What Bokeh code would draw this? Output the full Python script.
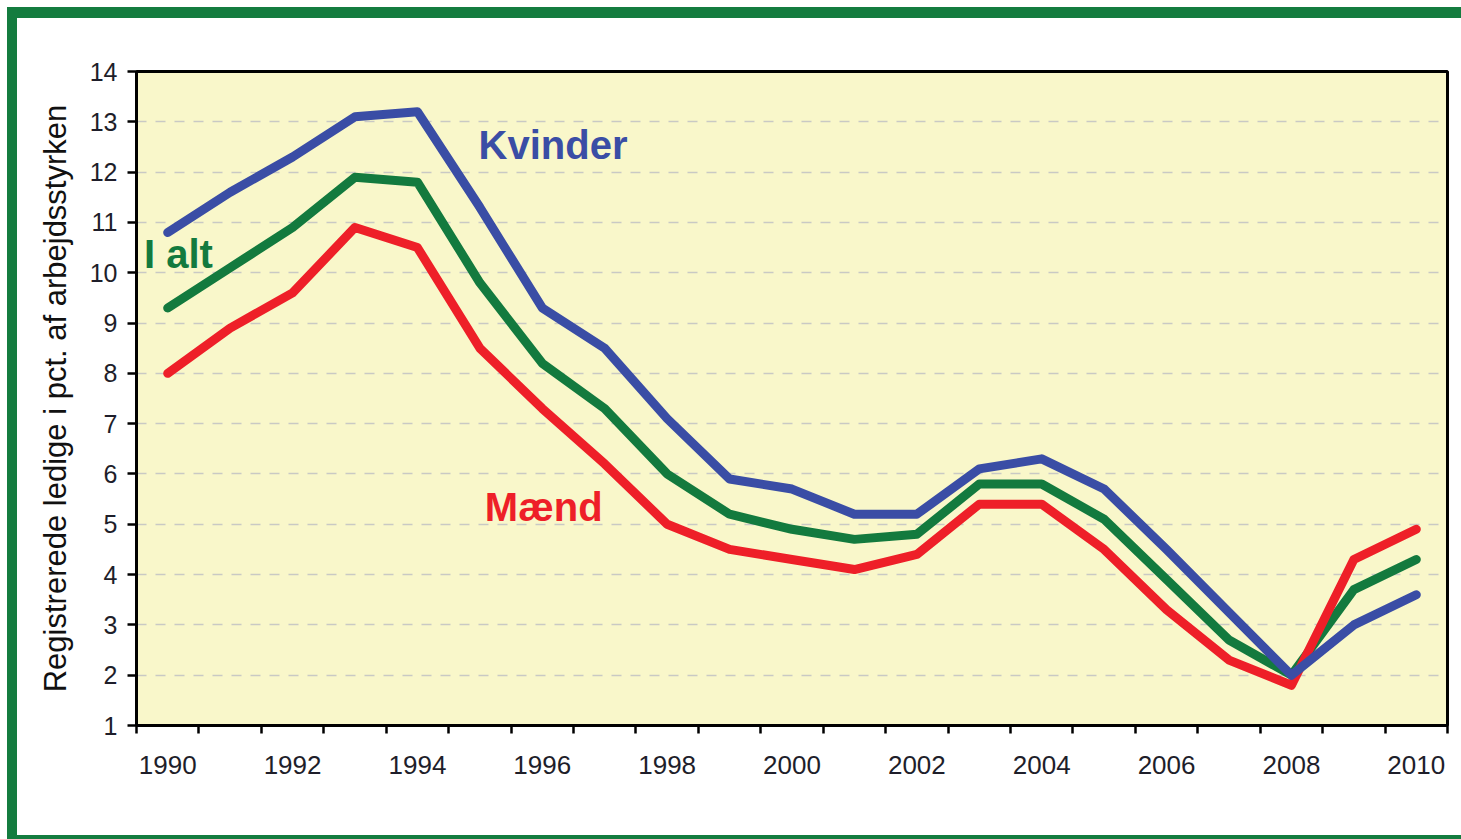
from bokeh.plotting import figure
from bokeh.models import FixedTicker, Range1d
from bokeh.core.properties import value
from bokeh.embed import file_html
from bokeh.resources import INLINE

years = list(range(1990, 2011))
kvinder = [10.8, 11.6, 12.3, 13.1, 13.2, 11.3, 9.3, 8.5, 7.1, 5.9, 5.7,
           5.2, 5.2, 6.1, 6.3, 5.7, 4.5, 3.25, 2.0, 3.0, 3.6]
i_alt = [9.3, 10.1, 10.9, 11.9, 11.8, 9.8, 8.2, 7.3, 6.0, 5.2, 4.9,
         4.7, 4.8, 5.8, 5.8, 5.1, 3.9, 2.7, 2.0, 3.7, 4.3]
maend = [8.0, 8.9, 9.6, 10.9, 10.5, 8.5, 7.3, 6.2, 5.0, 4.5, 4.3,
         4.1, 4.4, 5.4, 5.4, 4.5, 3.3, 2.3, 1.8, 4.3, 4.9]
x_labels = [1990, 1992, 1994, 1996, 1998, 2000, 2002, 2004, 2006, 2008, 2010]
y_ticks = list(range(1, 15))
y_title = "Registrerede ledige i pct. af arbejdsstyrken"

BLUE = "#3A4DA5"
GREEN = "#137A3E"
RED = "#EE1F28"
FRAME = "#147C3F"

W, H = 1461, 839
p = figure(width=W, height=H, output_backend="svg", toolbar_location=None,
           x_range=Range1d(1989.5, 2010.5), y_range=Range1d(1, 14),
           min_border_left=136, min_border_right=14, min_border_top=71,
           min_border_bottom=114)
p.background_fill_color = "#F9F7CA"
p.border_fill_color = None
p.outline_line_color = "black"
p.outline_line_width = 3
p.styles = {
    "background-color": "white",
    "box-shadow": ("inset 7px 7px 0 0 white, inset 17px 18px 0 0 " + FRAME +
                   ", inset 0 -4px 0 0 " + FRAME),
}

# x axis
p.xaxis.ticker = FixedTicker(ticks=x_labels,
                             minor_ticks=[y - 0.5 for y in years] + [2010.5])
p.xaxis.major_tick_line_color = None
p.xaxis.minor_tick_line_color = "black"
p.xaxis.minor_tick_line_width = 2.5
p.xaxis.minor_tick_out = 8
p.xaxis.minor_tick_in = 0
p.xaxis.axis_line_width = 3
p.xaxis.axis_line_color = "black"
p.xaxis.major_label_text_font = "Liberation Sans"
p.xaxis.major_label_text_font_size = "26px"
p.xaxis.major_label_text_color = "#1e1e2a"
p.xaxis.major_label_standoff = 22

# y axis
p.yaxis.ticker = FixedTicker(ticks=y_ticks, minor_ticks=[])
p.yaxis.major_tick_line_color = "black"
p.yaxis.major_tick_line_width = 2.5
p.yaxis.major_tick_out = 9
p.yaxis.major_tick_in = 0
p.yaxis.minor_tick_line_color = None
p.yaxis.axis_line_width = 3
p.yaxis.axis_line_color = "black"
p.yaxis.major_label_text_font = "Liberation Sans"
p.yaxis.major_label_text_font_size = "25px"
p.yaxis.major_label_text_color = "#1e1e2a"
p.yaxis.major_label_standoff = 10
p.yaxis.axis_label = y_title
p.yaxis.axis_label_text_font = "Liberation Sans"
p.yaxis.axis_label_text_font_style = "normal"
p.yaxis.axis_label_text_font_size = "31px"
p.yaxis.axis_label_text_color = "#111111"
p.yaxis.axis_label_standoff = 14

p.xgrid.grid_line_color = None
p.ygrid.grid_line_color = "#C9C9C4"
p.ygrid.grid_line_width = 1.5
p.ygrid.grid_line_dash = "10 9"

for vals, col in ((i_alt, GREEN), (maend, RED), (kvinder, BLUE)):
    p.line(years, vals, line_color=col, line_width=9,
           line_join="round", line_cap="round")

p.text(x=[1994.98], y=[12.53], text=["Kvinder"], text_color=BLUE,
       text_font=value("Liberation Sans"), text_font_style="bold",
       text_font_size="40px", text_baseline="alphabetic", text_align="left")
p.text(x=[1989.62], y=[10.38], text=["I alt"], text_color=GREEN,
       text_font=value("Liberation Sans"), text_font_style="bold",
       text_font_size="40px", text_baseline="alphabetic", text_align="left")
p.text(x=[1995.08], y=[5.34], text=["Mænd"], text_color=RED,
       text_font=value("Liberation Sans"), text_font_style="bold",
       text_font_size="40px", text_baseline="alphabetic", text_align="left")

open("out.html", "w").write(file_html(p, INLINE))
